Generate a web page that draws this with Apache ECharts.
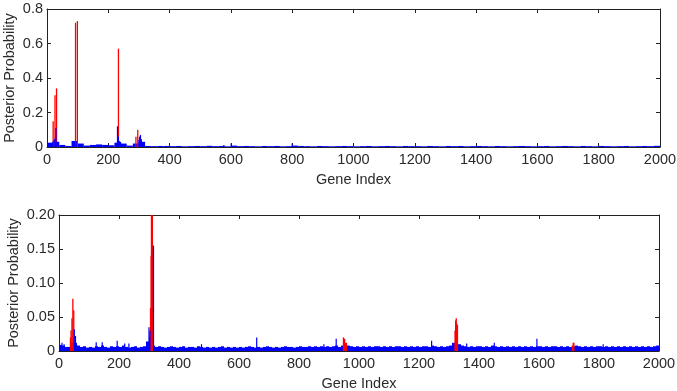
<!DOCTYPE html>
<html><head><meta charset="utf-8">
<script src="https://cdn.jsdelivr.net/npm/echarts@6/dist/echarts.min.js"></script>
<style>html,body{margin:0;padding:0;background:#fff}#c{width:677px;height:391px}</style>
</head><body><div id="c"></div>
<script>
// x tick labels
const xTicks = [0,200,400,600,800,1000,1200,1400,1600,1800,2000];
// ---- top panel ----
const topBinSize = 20;
const topBase = [0.025,0.03,0.012,0.006,0.035,0.02,0.008,0.012,0.015,0.012,
0.01,0.025,0.02,0.008,0.02,0.03,0.006,0.005,0.006,0.006,
0.005,0.006,0.004,0.005,0.006,0.005,0.007,0.005,0.006,0.004,
0.008,0.005,0.006,0.005,0.004,0.006,0.005,0.006,0.004,0.005,
0.008,0.006,0.005,0.004,0.006,0.005,0.004,0.005,0.006,0.005,
0.004,0.005,0.006,0.004,0.005,0.006,0.005,0.004,0.006,0.005,
0.005,0.004,0.006,0.005,0.004,0.006,0.005,0.006,0.004,0.005,
0.006,0.005,0.004,0.006,0.005,0.004,0.005,0.006,0.005,0.004,
0.005,0.006,0.004,0.005,0.006,0.005,0.004,0.006,0.005,0.004,
0.006,0.005,0.004,0.005,0.006,0.004,0.005,0.006,0.005,0.007];
const topBlueIdx = [16,21,24,27,30,88,93,228,231,234,238,298,300,303,306,575,599,798];
const topBlueVal = [0.03,0.04,0.05,0.11,0.03,0.035,0.03,0.12,0.06,0.035,0.03,0.04,0.06,0.07,0.045,0.012,0.02,0.02];
const topRedIdx = [18,24,29,91,97,231,288,294];
const topRedVal = [0.15,0.30,0.34,0.72,0.73,0.57,0.06,0.10];
// ---- bottom panel ----
const botBinSize = 10;
const botBase = [0.009,0.008,0.006,0.006,0.012,0.012,0.008,0.006,0.007,0.005,
0.006,0.005,0.007,0.006,0.008,0.006,0.005,0.007,0.006,0.007,
0.006,0.008,0.006,0.005,0.006,0.007,0.005,0.006,0.007,0.014,
0.02,0.008,0.006,0.007,0.006,0.005,0.006,0.007,0.006,0.005,
0.006,0.007,0.005,0.006,0.006,0.005,0.007,0.006,0.005,0.006,
0.005,0.006,0.005,0.006,0.007,0.005,0.006,0.005,0.006,0.005,
0.006,0.005,0.006,0.007,0.006,0.005,0.006,0.005,0.006,0.007,
0.006,0.005,0.006,0.005,0.006,0.007,0.006,0.006,0.005,0.006,
0.007,0.006,0.006,0.007,0.006,0.007,0.006,0.007,0.006,0.007,
0.006,0.007,0.008,0.006,0.008,0.01,0.008,0.007,0.006,0.007,
0.006,0.007,0.006,0.007,0.006,0.007,0.007,0.006,0.007,0.006,
0.007,0.006,0.007,0.007,0.006,0.007,0.006,0.007,0.006,0.007,
0.006,0.007,0.007,0.006,0.008,0.007,0.006,0.007,0.006,0.007,
0.008,0.012,0.012,0.01,0.008,0.007,0.006,0.007,0.006,0.007,
0.007,0.006,0.007,0.006,0.008,0.007,0.006,0.007,0.006,0.007,
0.006,0.007,0.006,0.007,0.006,0.007,0.006,0.007,0.006,0.007,
0.007,0.006,0.007,0.006,0.007,0.007,0.006,0.007,0.006,0.007,
0.006,0.007,0.008,0.007,0.006,0.007,0.006,0.007,0.006,0.007,
0.007,0.006,0.007,0.006,0.007,0.006,0.007,0.006,0.007,0.006,
0.007,0.006,0.007,0.006,0.007,0.006,0.007,0.006,0.007,0.008];
const botRedIdx = [36,38,41,44,47,303,305,306,307,308,309,946,950,953,956,1318,1320,1322,1324,1326,1709,1712,1714];
const botRedVal = [0.02,0.03,0.048,0.077,0.06,0.063,0.14,0.25,0.25,0.25,0.25,0.02,0.018,0.012,0.012,0.03,0.045,0.048,0.04,0.038,0.008,0.012,0.012];
const botBlueIdx = [8,15,49,53,122,142,192,217,231,298,301,313,473,657,881,922,1240,1357,1449,1591,1812];
const botBlueVal = [0.012,0.01,0.032,0.022,0.013,0.013,0.015,0.011,0.011,0.035,0.03,0.155,0.01,0.02,0.01,0.018,0.015,0.011,0.012,0.018,0.01];

const BLUE = '#0000ff', RED = '#ff0000', TXT = '#2a2a2a', AX = '#222';
const FONT = 'Liberation Sans, Arial, sans-serif';
const FS = 14.5;

function binData(vals, size){ return vals.map((v,i)=>[i*size,(i+1)*size,v]); }
function spikeData(idx, vals){ return idx.map((x,i)=>[x,x+1,vals[i]]); }
function makeRender(color, minW){
  return function(params, api){
    const x0=api.value(0), x1=api.value(1), v=api.value(2);
    const p0=api.coord([x0,0]), p1=api.coord([x1,v]);
    const w=Math.max(p1[0]-p0[0], minW);
    const cs=params.coordSys;
    const shape=echarts.graphic.clipRectByRect(
      {x:p0[0], y:p1[1], width:w, height:p0[1]-p1[1]},
      {x:cs.x, y:cs.y, width:cs.width, height:cs.height});
    return shape ? {type:'rect', shape:shape, style:{fill:color}} : null;
  };
}
function custom(gi, data, color, minW){
  return {type:'custom', xAxisIndex:gi*2, yAxisIndex:gi*2, data:data,
    renderItem:makeRender(color,minW), encode:{x:[0,1], y:2}, silent:true};
}
const lab = {color:TXT, fontFamily:FONT, fontSize:FS};
function xAxes(gi){
  return [
    {gridIndex:gi, type:'value', min:xTicks[0], max:xTicks[xTicks.length-1], interval:xTicks[1]-xTicks[0], position:'bottom',
     axisLine:{show:true,onZero:false,lineStyle:{color:AX,width:1}},
     axisTick:{show:true,inside:true,length:4,lineStyle:{color:AX}},
     axisLabel:Object.assign({margin:5, formatter:v=>String(v)},lab), splitLine:{show:false},
     name:'Gene Index', nameLocation:'middle', nameGap:25,
     nameTextStyle:{color:TXT,fontFamily:FONT,fontSize:FS}},
    {gridIndex:gi, type:'value', min:0, max:2000, interval:200, position:'top',
     axisLine:{show:true,onZero:false,lineStyle:{color:AX,width:1}},
     axisTick:{show:true,inside:true,length:4,lineStyle:{color:AX}},
     axisLabel:{show:false}, splitLine:{show:false}}
  ];
}
function yAxes(gi, max, interval, dec){
  return [
    {gridIndex:gi, type:'value', min:0, max:max, interval:interval, position:'left',
     axisLine:{show:true,onZero:false,lineStyle:{color:AX,width:1}},
     axisTick:{show:true,inside:true,length:4,lineStyle:{color:AX}},
     axisLabel:Object.assign({margin:4, formatter:v=> v===0?'0':v.toFixed(dec)},lab),
     splitLine:{show:false},
     name:'Posterior Probability', nameLocation:'middle', nameGap: dec===1?30:38,
     nameMoveOverlap:false,
     nameTextStyle:{color:TXT,fontFamily:FONT,fontSize:FS}},
    {gridIndex:gi, type:'value', min:0, max:max, interval:interval, position:'right',
     axisLine:{show:true,onZero:false,lineStyle:{color:AX,width:1}},
     axisTick:{show:true,inside:true,length:4,lineStyle:{color:AX}},
     axisLabel:{show:false}, splitLine:{show:false}}
  ];
}
const chart = echarts.init(document.getElementById('c'), null, {renderer:'canvas'});
chart.setOption({
  animation:false,
  backgroundColor:'#fff',
  grid:[{left:47,top:9,width:613,height:138,containLabel:false,outerBoundsMode:'none'},
        {left:59,top:215,width:600,height:136,containLabel:false,outerBoundsMode:'none'}],
  xAxis:[...xAxes(0), ...xAxes(1)],
  yAxis:[...yAxes(0,0.8,0.2,1), ...yAxes(1,0.2,0.05,2)],
  series:[
    custom(0, binData(topBase, topBinSize), BLUE, 1),
    custom(0, spikeData(topRedIdx, topRedVal), RED, 1.3),
    custom(0, spikeData(topBlueIdx, topBlueVal), BLUE, 1.2),
    custom(1, binData(botBase, botBinSize), BLUE, 1),
    custom(1, spikeData(botRedIdx, botRedVal), RED, 1.3),
    custom(1, spikeData(botBlueIdx, botBlueVal), BLUE, 1.2)
  ]
});
</script></body></html>
